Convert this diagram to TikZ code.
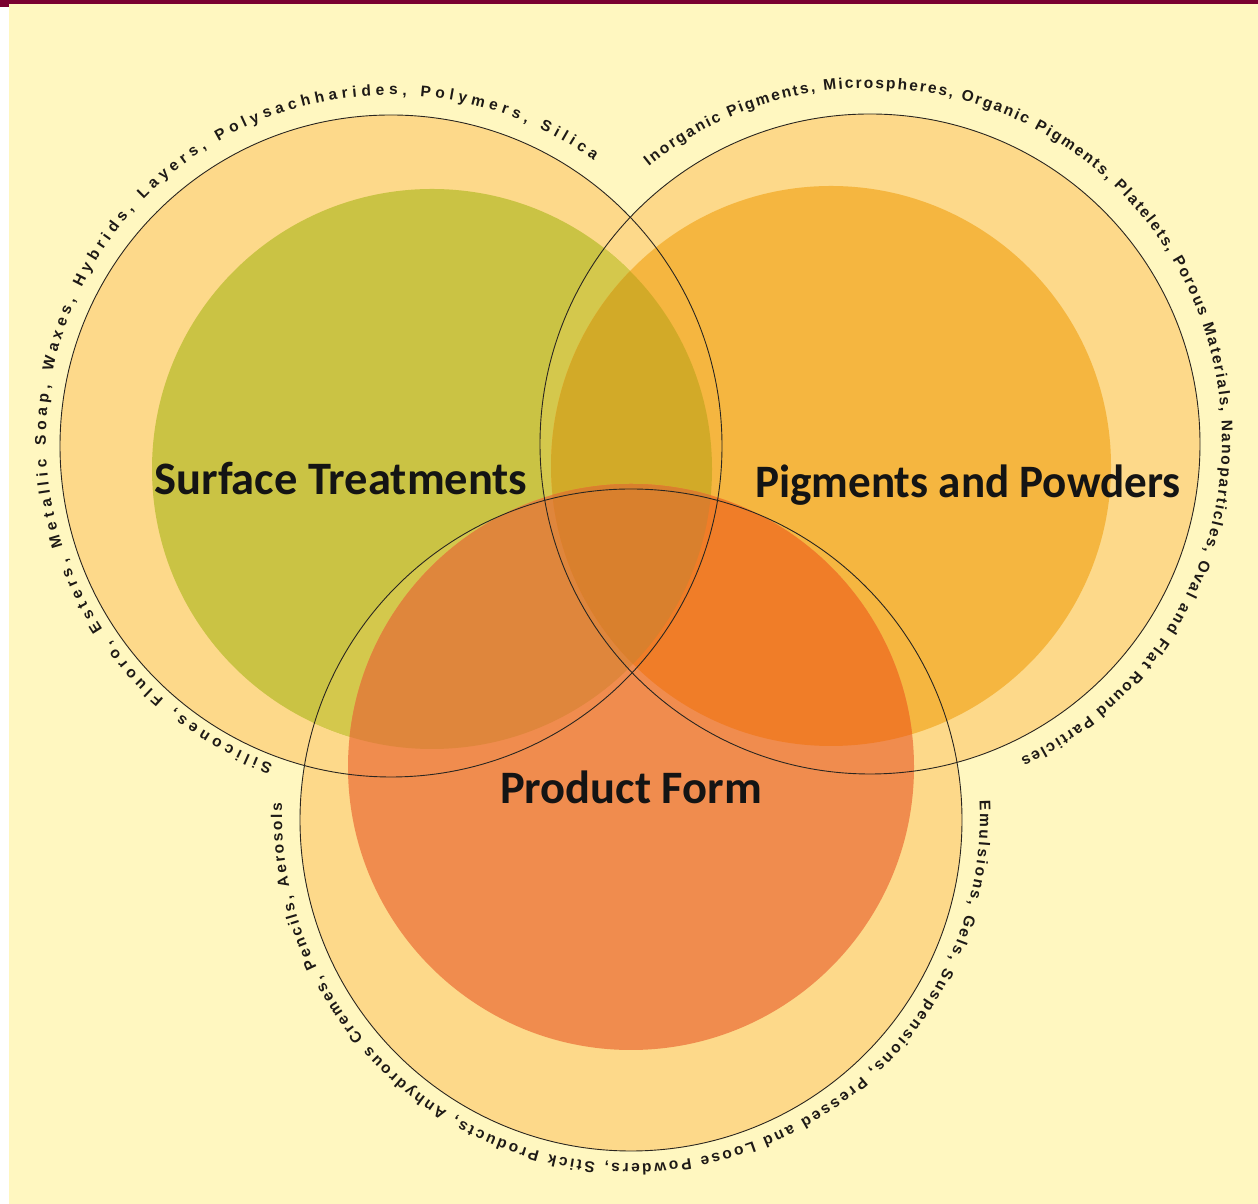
\documentclass[tikz,border=0pt]{standalone}
\usepackage{fontspec}
\setmainfont{Carlito}
\newfontfamily\arcfam{Liberation Sans}
\usetikzlibrary{decorations.text}
\definecolor{bgc}{HTML}{FFF7C0}
\definecolor{framec}{HTML}{7A0030}
\definecolor{peach}{HTML}{FDD98A}
\definecolor{greenc}{HTML}{CAC344}
\definecolor{greenlt}{HTML}{D4C84C}
\definecolor{orangec}{HTML}{F5B640}
\definecolor{redc}{HTML}{F08C4E}
\definecolor{goc}{HTML}{D2AA28}
\definecolor{grc}{HTML}{DF863C}
\definecolor{orc}{HTML}{F07D28}
\definecolor{allc}{HTML}{D9802D}
\definecolor{linec}{HTML}{2A2620}
\definecolor{arcc}{HTML}{1E1A16}
\definecolor{labc}{HTML}{141414}
\newcommand\myarcfont{\arcfam\bfseries\fontsize{15.5}{16}\selectfont}
\newcommand\mylabfont{\bfseries\fontsize{46.5}{50}\selectfont}
\begin{document}
\begin{tikzpicture}[x=1pt,y=1pt,
  lab/.style={font=\mylabfont, text=labc, inner sep=0pt, anchor=base},
  ring/.style={draw=linec, line width=0.9pt},
  arctext/.style={decorate, decoration={text along path, text={|\myarcfont\color{arcc}|#1}, text align={fit to path}}}
]
\useasboundingbox (0,0) rectangle (1258,1204);
% frame and background
\fill[white] (0,0) rectangle (1258,1204);
\fill[bgc] (9,0) rectangle (1258,1200);
\fill[framec] (0,1200) rectangle (1258,1204);
\fill[framec] (0,1197) rectangle (9,1204);
% centres
\coordinate (cL) at (391,758);
\coordinate (cR) at (870,760);
\coordinate (cB) at (631,384);
\coordinate (gC) at (432,735);
\coordinate (oC) at (831,738);
\coordinate (rC) at (631,437);
\coordinate (tL) at (391,764);
\coordinate (tR) at (870,764);
\coordinate (tB) at (631,389);
% outer disks
\fill[peach] (cL) circle[radius=331];
\fill[peach] (cR) circle[radius=330];
\fill[peach] (cB) circle[radius=331];
% inner disks
\fill[greenc] (gC) circle[radius=280];
\begin{scope}
  \clip (gC) circle[radius=280];
  \fill[greenlt] (cR) circle[radius=330];
  \fill[greenlt] (cB) circle[radius=331];
\end{scope}
\fill[orangec] (oC) circle[radius=280];
\begin{scope}
  \clip (oC) circle[radius=280];
  \fill[goc] (gC) circle[radius=280];
\end{scope}
\fill[redc] (rC) circle[radius=283];
\begin{scope}
  \clip (rC) circle[radius=283];
  \fill[grc] (gC) circle[radius=280];
  \fill[orc] (oC) circle[radius=280];
  \begin{scope}
    \clip (gC) circle[radius=280];
    \fill[allc] (oC) circle[radius=280];
  \end{scope}
\end{scope}
% outlines
\draw[ring] (cL) circle[radius=331];
\draw[ring] (cR) circle[radius=330];
\draw[ring] (cB) circle[radius=331];
% curved texts
\path[arctext={Silicones, Fluoro, Esters, Metallic Soap, Waxes, Hybrids, Layers, Polysachharides, Polymers, Silica}]
  (tL) ++(250:345) arc[start angle=250, end angle=54, radius=345];
\path[arctext={Inorganic Pigments, Microspheres, Organic Pigments, Platelets, Porous Materials, Nanoparticles, Oval and Flat Round Particles}]
  (tR) ++(128.9:352) arc[start angle=128.9, end angle=-64.6, radius=352];
\path[arctext={Emulsions, Gels, Suspensions, Pressed and Loose Powders, Stick Products, Anhydrous Cremes, Pencils, Aerosols}]
  (tB) ++(2.4:349) arc[start angle=2.4, end angle=-182, radius=349];
% labels
\node[lab] (st) at (341,709) {Surface Treatments};
\node[lab, xscale=0.97] (pp) at (968,706) {Pigments and Powders};
\node[lab] (pf) at (631,400) {Product Form};
\end{tikzpicture}
\end{document}
